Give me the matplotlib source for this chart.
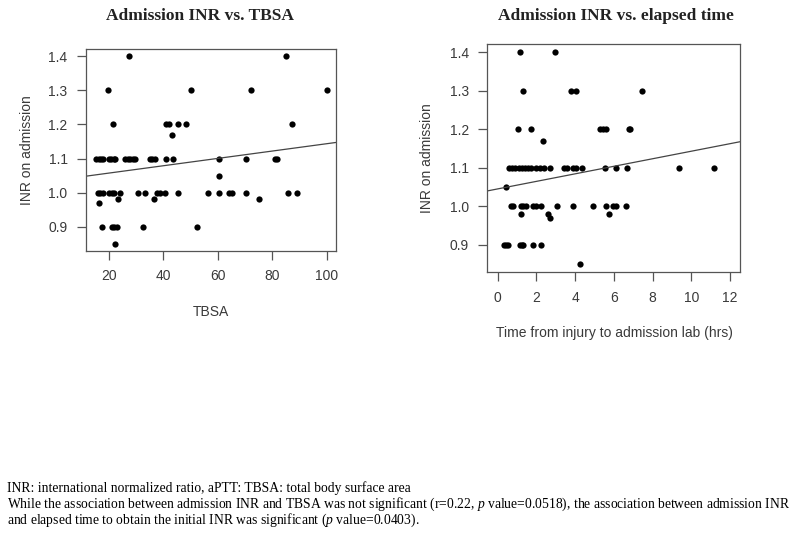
import matplotlib
matplotlib.use("Agg")
import matplotlib.pyplot as plt

plt.rcParams['mathtext.fontset'] = 'custom'
plt.rcParams['mathtext.it'] = 'Liberation Serif:italic'
plt.rcParams['mathtext.rm'] = 'Liberation Serif'

# ---- data ----
tbsa_x = [27.3, 85.2,
          19.7, 50.3, 72.2, 100.0,
          21.5, 41.1, 42.1, 45.4, 48.2, 87.1,
          43.3,
          15.4, 16.4, 17.2, 18.0, 20.0, 20.8, 21.7, 22.4, 26.1, 26.9, 27.9, 28.7, 29.7,
          35.0, 36.0, 36.9, 41.1, 43.5, 60.3, 70.3, 81.1, 81.9,
          60.3,
          16.0, 16.8, 17.7, 20.2, 21.2, 22.0, 24.2, 30.6, 33.3, 37.8, 38.7, 40.5, 45.4,
          56.3, 60.3, 64.0, 65.2, 70.3, 85.9, 89.2,
          23.4, 36.6, 75.2,
          16.4,
          17.6, 21.2, 22.0, 22.9, 32.6, 52.4,
          22.4]
tbsa_inr = [1.4] * 2 + [1.3] * 4 + [1.2] * 6 + [1.17] + [1.1] * 22 + [1.05] + \
           [1.0] * 20 + [0.98] * 3 + [0.97] + [0.9] * 6 + [0.85]

time_x = [1.15, 2.97,
          1.31, 3.78, 4.05, 7.43,
          1.07, 1.70, 5.31, 5.45, 5.57, 6.78, 6.86,
          2.32,
          0.58, 0.72, 0.88, 1.12, 1.27, 1.41, 1.55, 1.72, 1.96, 2.18, 2.41, 2.70,
          3.42, 3.56, 3.87, 4.02, 4.33, 5.52, 6.12, 6.69, 9.36, 11.2,
          0.43,
          0.69, 0.80, 1.20, 1.32, 1.44, 1.80, 1.96, 2.23, 3.06, 3.87, 4.93, 5.57,
          5.95, 6.12, 6.62,
          1.19, 2.61, 5.74,
          2.70,
          0.34, 0.45, 0.52, 1.15, 1.25, 1.32, 1.80, 2.23,
          4.24]
time_inr = [1.4] * 2 + [1.3] * 4 + [1.2] * 7 + [1.17] + [1.1] * 22 + [1.05] + \
           [1.0] * 15 + [0.98] * 3 + [0.97] + [0.9] * 8 + [0.85]

# regression lines: [intercept, slope]
tbsa_fit = [1.0355, 0.00108]
time_fit = [1.045, 0.0098]

tbsa_ticks = [20, 40, 60, 80, 100]
time_ticks = [0, 2, 4, 6, 8, 10, 12]
inr_ticks = [0.9, 1.0, 1.1, 1.2, 1.3, 1.4]
inr_ticklabels = ["0.9", "1.0", "1.1", "1.2", "1.3", "1.4"]

titles = ["Admission INR vs. TBSA", "Admission INR vs. elapsed time"]
xlabels = ["TBSA", "Time from injury to admission lab (hrs)"]
ylabel = "INR on admission"
caption = [
    "INR: international normalized ratio, aPTT: TBSA: total body surface area",
    "While the association between admission INR and TBSA was not significant "
    "(r=0.22, $p$ value=0.0518), the association between admission INR",
    "and elapsed time to obtain the initial INR was significant ($p$ value=0.0403).",
]

W, H = 800, 537
fig = plt.figure(figsize=(8, 5.37), dpi=100)
ax1 = fig.add_axes([86 / W, 1 - 251 / H, 250 / W, 202 / H])
ax2 = fig.add_axes([487.3 / W, 1 - 272.3 / H, 252.7 / W, 228.3 / H])

sans = "Liberation Sans"
serif = "Liberation Serif"
txt_col = "#3a3a3a"
spine_col = "#555555"

def style(ax, xs, ys, fit, xticks, xlim):
    ax.plot(xs, ys, "o", color="black", ms=4.5, mew=0)
    ax.axline((0, fit[0]), slope=fit[1], color="#444444", lw=0.9)
    ax.set_xlim(*xlim)
    ax.set_ylim(0.828, 1.422)
    ax.set_xticks(xticks)
    ax.set_xticklabels([str(t) for t in xticks])
    ax.set_yticks(inr_ticks)
    ax.set_yticklabels(inr_ticklabels)
    for s in ax.spines.values():
        s.set_color(spine_col)
        s.set_linewidth(0.9)
    ax.tick_params(length=6.3, width=0.9, color=spine_col, labelcolor=txt_col,
                   labelsize=10, pad=7)
    for lab in ax.get_xticklabels() + ax.get_yticklabels():
        lab.set_fontfamily(sans)

style(ax1, tbsa_x, tbsa_inr, tbsa_fit, tbsa_ticks, (11.6, 103.4))
style(ax2, time_x, time_inr, time_fit, time_ticks, (-0.54, 12.52))

def fx(px):
    return px / W

def fy(py):
    return 1 - py / H

# titles
fig.text(fx(200), fy(16), titles[0], ha="center", va="center",
         family=serif, weight="bold", size=12.5, color="#222222")
fig.text(fx(616), fy(16), titles[1], ha="center", va="center",
         family=serif, weight="bold", size=12.5, color="#222222")
# axis labels
fig.text(fx(211), fy(312), xlabels[0], ha="center", va="center",
         family=sans, size=10, color=txt_col)
fig.text(fx(614), fy(333), xlabels[1], ha="center", va="center",
         family=sans, size=10, color=txt_col)
fig.text(fx(27), fy(150), ylabel, ha="center", va="center", rotation=90,
         family=sans, size=10, color=txt_col)
fig.text(fx(427), fy(158), ylabel, ha="center", va="center", rotation=90,
         family=sans, size=10, color=txt_col)
# caption
for i, line in enumerate(caption):
    fig.text(fx(7), fy(492 + 16 * i), line, ha="left", va="baseline",
             family=serif, size=9.85, color="black")

fig.savefig("out.png", dpi=100)
